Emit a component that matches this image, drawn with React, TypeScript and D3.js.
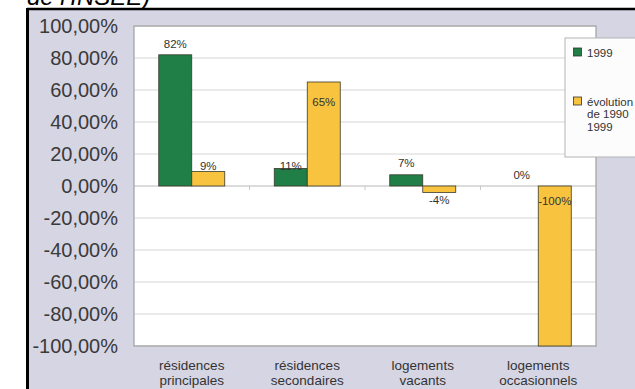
import React from "react";
import * as d3 from "d3";

const categories = [
  ["résidences", "principales"],
  ["résidences", "secondaires"],
  ["logements", "vacants"],
  ["logements", "occasionnels"],
];
const series1999 = [82, 11, 7, 0];
const seriesEvolution = [9, 65, -4, -100];
const yTicks = [100, 80, 60, 40, 20, 0, -20, -40, -60, -80, -100];
const seriesNames = ["1999", "evolution"];
const legendLines1 = ["1999"];
const legendLines2 = ["évolution", "de 1990", "1999"];

// label nudges (styling only, px)
const nudge1999 = [-7, 2, -8, -7];
const nudgeEvol = [-1.5, 24, 18, 19];

const W = 635;
const H = 389;
const plot = { left: 134, right: 596, top: 26, bottom: 346 };
const GREEN = "#1f7f47";
const YELLOW = "#f8c33f";

export default function App() {
  const y = d3.scaleLinear().domain([-100, 100]).range([plot.bottom, plot.top]);
  const x0 = d3
    .scaleBand<number>()
    .domain(categories.map((_, i) => i))
    .range([plot.left, plot.right])
    .padding(0);
  const bw = x0.bandwidth();
  const groupW = 66;
  const x1 = d3
    .scaleBand<string>()
    .domain(seriesNames)
    .range([(bw - groupW) / 2, (bw + groupW) / 2]);
  const fmt = (v: number) =>
    d3.format(".2f")(v).replace(".", ",").replace("\u2212", "-") + "%";
  const y0 = y(0);

  const bars = [
    { name: "1999", vals: series1999, color: GREEN, nudge: nudge1999 },
    { name: "evolution", vals: seriesEvolution, color: YELLOW, nudge: nudgeEvol },
  ];

  return (
    <svg
      width={W}
      height={H}
      style={{ position: "absolute", left: 0, top: 0 }}
      fontFamily="'Liberation Sans', Arial, sans-serif"
    >
      <rect x={0} y={0} width={W} height={H} fill="#ffffff" />
      <rect x={28} y={9} width={W - 28} height={H - 9} fill="#d5d5e4" />
      <line x1={27} y1={9} x2={W} y2={9} stroke="#000" strokeWidth={2.5} />
      <line x1={27.5} y1={8} x2={27.5} y2={H} stroke="#000" strokeWidth={3} />
      <text x={27} y={5} fontSize={24} fontStyle="italic" fill="#000">
        de l'INSEE)
      </text>

      <rect
        x={plot.left}
        y={plot.top}
        width={plot.right - plot.left}
        height={plot.bottom - plot.top}
        fill="#ffffff"
      />
      {yTicks.map((t) => (
        <g key={t}>
          <line
            x1={plot.left}
            x2={plot.right}
            y1={y(t)}
            y2={y(t)}
            stroke={t === 0 ? "#b8b8b8" : "#d6d6d6"}
            strokeWidth={1}
          />
          <text
            x={118}
            y={y(t)}
            dy="0.36em"
            textAnchor="end"
            fontSize={20}
            fill="#3a3a3a"
          >
            {fmt(t)}
          </text>
        </g>
      ))}
      {categories.slice(1).map((_, i) => (
        <line
          key={i}
          x1={x0(i + 1)!}
          x2={x0(i + 1)!}
          y1={y0}
          y2={y0 + 4}
          stroke="#c8c8c8"
        />
      ))}
      <rect
        x={plot.left}
        y={plot.top}
        width={plot.right - plot.left}
        height={plot.bottom - plot.top}
        fill="none"
        stroke="#a0a0a0"
        strokeWidth={1.2}
      />

      {bars.map((s) =>
        s.vals.map((v, i) => {
          const bx = x0(i)! + x1(s.name)!;
          const top = y(Math.max(v, 0));
          const h = Math.abs(y(v) - y0);
          const anchor = v >= 0 ? y(v) : y0;
          return (
            <g key={s.name + i}>
              {h > 0.5 && (
                <rect
                  x={bx}
                  y={top}
                  width={x1.bandwidth()}
                  height={h}
                  fill={s.color}
                  stroke="#3a3a2a"
                  strokeWidth={0.8}
                />
              )}
              <text
                x={bx + x1.bandwidth() / 2}
                y={anchor + s.nudge[i]}
                textAnchor="middle"
                fontSize={11.5}
                fill="#333"
              >
                {`${v}%`}
              </text>
            </g>
          );
        })
      )}

      {categories.map((c, i) => (
        <text
          key={i}
          x={x0(i)! + bw / 2}
          textAnchor="middle"
          fontSize={13.5}
          fill="#333"
        >
          {c.map((l, j) => (
            <tspan key={j} x={x0(i)! + bw / 2} y={370 + j * 15}>
              {l}
            </tspan>
          ))}
        </text>
      ))}

      <rect x={565} y={38} width={90} height={119} fill="#fcfcfc" stroke="#b4b4b4" strokeWidth={1} />
      <rect x={573.5} y={48} width={8} height={8} fill={GREEN} stroke="#333" strokeWidth={0.8} />
      {legendLines1.map((l, j) => (
        <text key={j} x={587} y={56.5 + j * 12.5} fontSize={11.5} fill="#333">
          {l}
        </text>
      ))}
      <rect x={573.5} y={97} width={8} height={8} fill={YELLOW} stroke="#333" strokeWidth={0.8} />
      {legendLines2.map((l, j) => (
        <text key={j} x={587} y={105.5 + j * 12.5} fontSize={11.5} fill="#333">
          {l}
        </text>
      ))}
    </svg>
  );
}
